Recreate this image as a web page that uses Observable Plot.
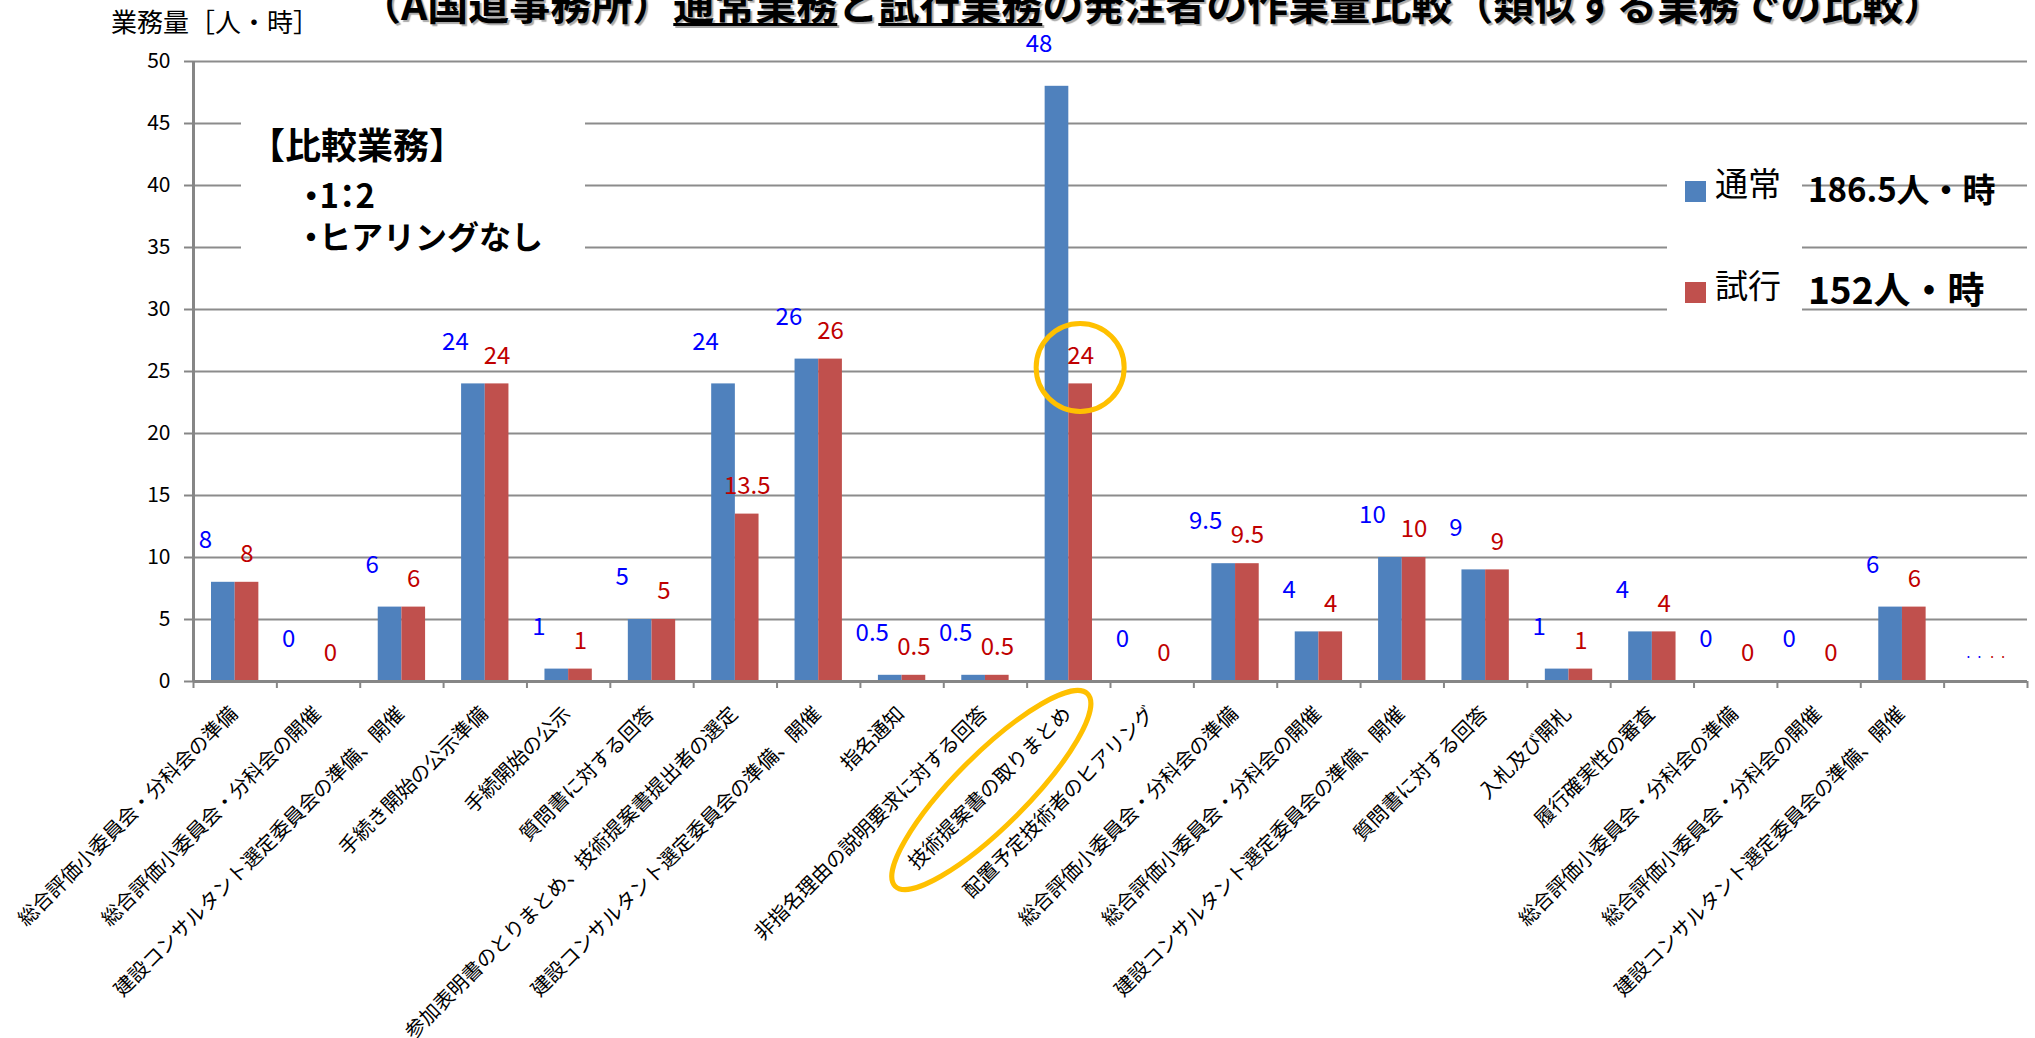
<!DOCTYPE html>
<html><head><meta charset="utf-8">
<script src="https://cdn.jsdelivr.net/npm/d3@7"></script>
<script src="https://cdn.jsdelivr.net/npm/@observablehq/plot@0.6"></script>
<style>
html,body{margin:0;padding:0;background:#fff;overflow:hidden;}
#wrap{position:relative;width:2035px;height:1038px;font-family:"Noto Sans CJK JP","Noto Sans",sans-serif;color:#000;}
#wrap svg{position:absolute;left:0;top:0;}
.ov{position:absolute;white-space:nowrap;}
#title{left:360px;top:-18px;font-size:41px;line-height:41px;font-weight:bold;text-shadow:2px 2px 1px #aaa;}
#title u{text-decoration-thickness:3px;text-underline-offset:3px;}
#ylab{left:111px;top:8px;font-size:26px;line-height:26px;}
#note{left:241px;top:95px;width:344px;height:175px;background:#fff;}
.note{font-weight:bold;}
.palt{font-feature-settings:"palt";}
#legbox{left:1667px;top:140px;width:135px;height:200px;background:#fff;}
.sw{position:absolute;width:21px;height:21px;}
.leg{font-size:33px;line-height:33px;}
.tot{font-weight:bold;}
</style></head><body><div id="wrap"></div>
<script>
// ---- data ----
const categories = [
  "総合評価小委員会・分科会の準備",
  "総合評価小委員会・分科会の開催",
  "建設コンサルタント選定委員会の準備、開催",
  "手続き開始の公示準備",
  "手続開始の公示",
  "質問書に対する回答",
  "参加表明書のとりまとめ、技術提案書提出者の選定",
  "建設コンサルタント選定委員会の準備、開催",
  "指名通知",
  "非指名理由の説明要求に対する回答",
  "技術提案書の取りまとめ",
  "配置予定技術者のヒアリング",
  "総合評価小委員会・分科会の準備",
  "総合評価小委員会・分科会の開催",
  "建設コンサルタント選定委員会の準備、開催",
  "質問書に対する回答",
  "入札及び開札",
  "履行確実性の審査",
  "総合評価小委員会・分科会の準備",
  "総合評価小委員会・分科会の開催",
  "建設コンサルタント選定委員会の準備、開催",
  ""
];
const normalValues = [8, 0, 6, 24, 1, 5, 24, 26, 0.5, 0.5, 48, 0, 9.5, 4, 10, 9, 1, 4, 0, 0, 6, null];
const trialValues  = [8, 0, 6, 24, 1, 5, 13.5, 26, 0.5, 0.5, 24, 0, 9.5, 4, 10, 9, 1, 4, 0, 0, 6, null];
const seriesNames = ["通常", "試行"];
const seriesTotals = ["186.5人・時", "152人・時"];
const yTicks = [0, 5, 10, 15, 20, 25, 30, 35, 40, 45, 50];
const highlightIndex = 10;
const titleParts = ["（A国道事務所）", "通常業務", "と", "試行業務", "の発注者の作業量比較（類似する業務での比較）"];
const yLabel = "業務量［人・時］";
const noteLines = ["【比較業務】", "・1：2", "・", "ヒアリングなし"];
const missingLabel = "· ·";

// ---- styles ----
const BLUE = "#4F81BD", RED = "#C0504D", BLUE_T = "#0000FF", RED_T = "#C00000";
const GRID = "#8c8c8c", AXIS = "#868686";
const bw = 0.284; // bar width in slot units

const rows = categories.map((c, i) => ({i, c, normal: normalValues[i], trial: trialValues[i]}));
const present = rows.filter(d => d.normal != null);
const missing = rows.filter(d => d.normal == null);
const nSlots = categories.length;

const plot = Plot.plot({
  width: 2035, height: 1038,
  marginLeft: 193, marginRight: 8, marginTop: 61, marginBottom: 357,
  x: {domain: [0, nSlots], axis: null},
  y: {domain: [0, 50], axis: null},
  style: {fontFamily: '"Noto Sans CJK JP","Noto Sans",sans-serif', background: "transparent", color: "black", overflow: "visible"},
  marks: [
    Plot.gridY(yTicks, {stroke: GRID, strokeOpacity: 1, strokeWidth: 2}),
    Plot.rect(present.filter(d => d.normal > 0), {x1: d => d.i + 0.5 - bw, x2: d => d.i + 0.5, y1: 0, y2: "normal", fill: BLUE}),
    Plot.rect(present.filter(d => d.trial > 0), {x1: d => d.i + 0.5, x2: d => d.i + 0.5 + bw, y1: 0, y2: "trial", fill: RED}),
    Plot.ruleX([0], {stroke: AXIS, strokeWidth: 3}),
    Plot.ruleY([0], {stroke: AXIS, strokeWidth: 3}),
    Plot.axisY({ticks: yTicks, tickSize: 9, tickPadding: 14, fontSize: 21, stroke: AXIS, strokeWidth: 2, fill: "black", label: null}),
    Plot.axisX({ticks: d3.range(nSlots + 1), tickSize: 7, tickFormat: () => "", stroke: AXIS, strokeWidth: 2, label: null}),
    Plot.text(rows.filter(d => d.c), {x: d => d.i + 0.5, y: 0, text: "c", rotate: -45, textAnchor: "end", lineAnchor: "middle", dx: -1, dy: 29, fontSize: 20, fill: "black"}),
    Plot.text(present, {x: d => d.i + 0.5 - bw / 2, y: "normal", text: d => String(d.normal), dx: -18, dy: -42, fontSize: 24, fill: BLUE_T, lineAnchor: "middle"}),
    Plot.text(present, {x: d => d.i + 0.5 + bw / 2, y: "trial", text: d => String(d.trial), dy: -28, fontSize: 24, fill: RED_T, lineAnchor: "middle"}),
    Plot.text(missing, {x: d => d.i + 0.5 - bw / 2, y: 0, text: () => missingLabel, dy: -24, fontSize: 14, fill: BLUE_T, lineAnchor: "middle"}),
    Plot.text(missing, {x: d => d.i + 0.5 + bw / 2, y: 0, text: () => missingLabel, dy: -24, fontSize: 14, fill: RED_T, lineAnchor: "middle"})
  ]
});

const wrap = document.getElementById("wrap");
wrap.appendChild(plot);

// annotations anchored to the scales
const xs = plot.scale("x"), ys = plot.scale("y");
const svg = d3.select(plot);
svg.append("circle")
  .attr("cx", xs.apply(highlightIndex + 0.5 + bw / 2))
  .attr("cy", ys.apply(trialValues[highlightIndex]) - 16)
  .attr("r", 44).attr("fill", "none").attr("stroke", "#FFC000").attr("stroke-width", 5);
const px = xs.apply(highlightIndex + 0.5) - 1, py = ys.apply(0) + 29;
const ecx = px - 76, ecy = py + 80;
svg.append("ellipse")
  .attr("cx", ecx).attr("cy", ecy).attr("rx", 136).attr("ry", 36)
  .attr("transform", `rotate(-45,${ecx},${ecy})`)
  .attr("fill", "none").attr("stroke", "#FFC000").attr("stroke-width", 5);

// overlays
function div(id, cls, html, style) {
  const e = document.createElement("div");
  if (id) e.id = id;
  e.className = "ov " + (cls || "");
  if (html != null) e.innerHTML = html;
  if (style) e.setAttribute("style", style);
  wrap.appendChild(e);
  return e;
}
div("title", "", titleParts[0] + "<u>" + titleParts[1] + "</u>" + titleParts[2] + "<u>" + titleParts[3] + "</u>" + titleParts[4]);
div("ylab", "", yLabel);
div("note", "", "");
div(null, "note", noteLines[0], "left:249px;top:125px;font-size:36px;line-height:36px;");
div(null, "note palt", noteLines[1], "left:303px;top:178px;font-size:33px;line-height:33px;");
div(null, "note", `<span class="palt">${noteLines[2]}</span>${noteLines[3]}`, "left:303px;top:219px;font-size:32px;line-height:33px;");
div("legbox", "", "");
div(null, "sw", "", `left:1685px;top:181px;background:${BLUE};`);
div(null, "sw", "", `left:1685px;top:282px;background:${RED};`);
div(null, "leg", seriesNames[0], "left:1715px;top:166px;");
div(null, "leg", seriesNames[1], "left:1715px;top:268px;");
div(null, "leg tot", seriesTotals[0], "left:1808px;top:172px;font-size:33px;line-height:33px;");
div(null, "leg tot", seriesTotals[1], "left:1808px;top:270px;font-size:37px;line-height:37px;");
</script></body></html>
